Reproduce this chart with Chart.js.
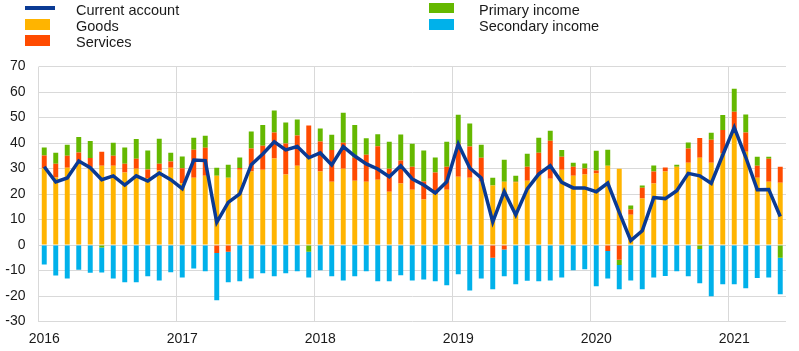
<!DOCTYPE html>
<html>
<head>
<meta charset="utf-8">
<script src="https://cdn.jsdelivr.net/npm/chart.js@4/dist/chart.umd.min.js"></script>
<style>
  html, body { margin: 0; padding: 0; background: #fff; }
  #wrap { position: relative; width: 799px; height: 351px; font-family: "Liberation Sans", Arial, sans-serif; }
  #wrap canvas { position: absolute; left: 0; top: 0; }
  .lg-txt { position: absolute; font-size: 14.5px; line-height: 16px; color: #1a1a1a; white-space: nowrap; }
  .lg-box { position: absolute; width: 25px; height: 11px; }
</style>
</head>
<body>
<div id="wrap">
  <canvas id="chartCuenta" width="799" height="351"></canvas>
  <div class="lg-box" style="left:25px;top:6px;width:30px;height:4px;background:#0a3a94"></div>
  <div class="lg-txt" style="left:76px;top:2px">Current account</div>
  <div class="lg-box" style="left:25px;top:19px;background:#ffb400"></div>
  <div class="lg-txt" style="left:76px;top:18px">Goods</div>
  <div class="lg-box" style="left:25px;top:35px;background:#ff4b00"></div>
  <div class="lg-txt" style="left:76px;top:34px">Services</div>
  <div class="lg-box" style="left:429px;top:3px;height:10px;background:#65b800"></div>
  <div class="lg-txt" style="left:479px;top:2px">Primary income</div>
  <div class="lg-box" style="left:429px;top:19px;background:#00b1ea"></div>
  <div class="lg-txt" style="left:479px;top:18px">Secondary income</div>
</div>
<script>
// meses: ene 2016 - may 2021
const years = ['2016', '2017', '2018', '2019', '2020', '2021'];
const monthsLastYear = 5;

const goods = [
  30.1, 26.5, 30.3, 32.9, 30.5, 31.1, 31.1, 28.4, 29.9, 26.3,
  29.2, 30.3, 24.2, 26.4, 27.2, 27.2, 26.4, 29.5, 28.8, 29.5,
  33.9, 27.6, 31.1, 34.0, 28.8, 24.8, 29.9, 25.2, 24.8, 25.6,
  20.9, 24.1, 21.7, 17.8, 20.0, 21.7, 26.8, 26.4, 24.8, 23.3,
  24.8, 24.6, 25.2, 27.2, 26.0, 29.5, 27.2, 27.6, 28.0, 31.1,
  29.9, 11.9, 18.2, 24.1, 28.8, 30.7, 32.3, 34.2, 32.3, 36.0,
  44.0, 36.6, 26.4, 24.8, 24.4
];
const services = [
  5.0, 5.4, 4.7, 3.4, 3.6, 5.5, 3.9, 3.5, 3.9, 3.3,
  2.7, 2.4, 5.9, 11.0, 10.9, -3.1, -2.6, 0.7, 9.0, 9.4,
  10.2, 12.2, 11.8, 12.9, 11.8, 12.5, 10.2, 9.0, 10.6, 13.1,
  9.0, 9.0, 9.0, 7.1, 8.4, 9.0, 12.9, 12.2, 9.4, -5.0,
  -1.8, 0.2, 5.5, 9.0, 14.9, 5.1, 3.5, 2.4, 1.2, -2.4,
  -5.8, 2.0, 4.3, 4.7, 1.6, 0, 5.5, 7.8, 9.0, 9.1,
  8.3, 7.5, 4.7, 9.0, 6.3
];
const primaryIncome = [
  3.1, 4.3, 4.3, 6.1, 6.7, -1.0, 5.1, 6.3, 7.8, 7.5,
  9.8, 3.5, 4.6, 4.7, 4.7, 3.1, 5.1, 4.1, 6.7, 8.2,
  8.6, 8.2, 6.3, -2.6, 5.1, 5.9, 11.8, 12.9, 6.5, 4.7,
  10.6, 10.2, 9.0, 12.2, 5.9, 9.8, 11.4, 9.0, 5.1, 3.1,
  8.6, 2.4, 5.1, 5.9, 3.9, 2.7, 1.6, 2.0, 7.8, 6.3,
  -2.0, 1.6, 0.8, 2.4, 0, 0.8, 2.4, -1.6, 2.7, 5.9,
  9.0, 7.1, 3.5, 0.8, -5.0
];
const secondaryIncome = [
  -7.6, -12.0, -13.1, -9.7, -10.9, -9.8, -13.1, -14.6, -14.6, -12.3,
  -13.9, -10.7, -12.7, -9.2, -10.3, -18.6, -12.0, -14.2, -13.1, -11.1,
  -12.3, -11.1, -10.3, -10.1, -9.9, -12.3, -13.9, -12.3, -10.3, -14.2,
  -14.2, -11.9, -13.9, -13.5, -14.2, -15.8, -11.5, -17.8, -13.1, -12.4,
  -10.5, -15.4, -14.0, -14.2, -13.9, -12.7, -9.9, -9.5, -16.2, -10.7,
  -9.6, -13.9, -17.4, -12.7, -12.2, -10.3, -12.3, -13.4, -20.1, -15.4,
  -15.4, -17.0, -12.9, -12.7, -14.3
];
const currentAccount = [
  30.7, 24.7, 26.3, 32.9, 30.3, 25.6, 27.1, 23.5, 27.1, 25.1,
  28.2, 25.6, 22.1, 33.3, 33.1, 8.9, 16.7, 20.0, 31.5, 35.7,
  40.5, 37.3, 38.6, 34.2, 36.1, 31.4, 38.6, 34.9, 31.8, 29.8,
  26.8, 31.1, 25.9, 23.5, 20.4, 24.8, 39.6, 30.2, 26.3, 9.0,
  21.0, 11.8, 22.0, 27.8, 31.1, 24.6, 22.4, 22.4, 20.9, 24.3,
  12.8, 1.7, 5.6, 18.6, 18.2, 21.3, 28.1, 27.1, 24.2, 35.3,
  46.1, 34.4, 21.7, 21.8, 11.2
];

const etiquetas = [];
years.forEach((y, k) => {
  const n = k === years.length - 1 ? monthsLastYear : 12;
  for (let m = 1; m <= n; m++) etiquetas.push(y + '-' + String(m).padStart(2, '0'));
});

const colorGrid = '#d9d9d9';
const fuente = { family: '"Liberation Sans", Arial, sans-serif', size: 14 };

function barra(label, data, color) {
  return {
    type: 'bar', label, data, backgroundColor: color,
    barPercentage: 0.43, categoryPercentage: 1, order: 1, stack: 'bop'
  };
}

new Chart(document.getElementById('chartCuenta'), {
  data: {
    labels: etiquetas,
    datasets: [
      {
        type: 'line', label: 'Current account', data: currentAccount,
        borderColor: '#0a3a94', borderWidth: 3.5, pointRadius: 0, tension: 0,
        order: 0, stack: 'ca'
      },
      barra('Goods', goods, '#ffb400'),
      barra('Services', services, '#ff4b00'),
      barra('Primary income', primaryIncome, '#65b800'),
      barra('Secondary income', secondaryIncome, '#00b1ea')
    ]
  },
  options: {
    responsive: false,
    animation: false,
    layout: { padding: { top: 66.5, right: 13, bottom: 0, left: 0 } },
    plugins: { legend: { display: false }, tooltip: { enabled: false } },
    scales: {
      x: {
        stacked: true,
        offset: true,
        border: { display: false },
        grid: {
          offset: true, drawTicks: false, lineWidth: 1,
          color: ctx => (ctx.index % 12 === 0 && ctx.index < etiquetas.length) ? colorGrid : 'rgba(0,0,0,0)'
        },
        ticks: {
          autoSkip: false, maxRotation: 0, padding: 9, color: '#1a1a1a', font: fuente,
          callback: (v, i) => i % 12 === 0 ? etiquetas[i].slice(0, 4) : ''
        },
        afterFit: s => { s.height = 29.5; }
      },
      y: {
        stacked: true,
        min: -30, max: 70,
        border: { display: false },
        grid: { color: colorGrid, drawTicks: false, lineWidth: 1 },
        ticks: { stepSize: 10, padding: 13, color: '#1a1a1a', font: fuente },
        afterFit: s => { s.width = 38.5; }
      }
    }
  }
});
</script>
</body>
</html>
